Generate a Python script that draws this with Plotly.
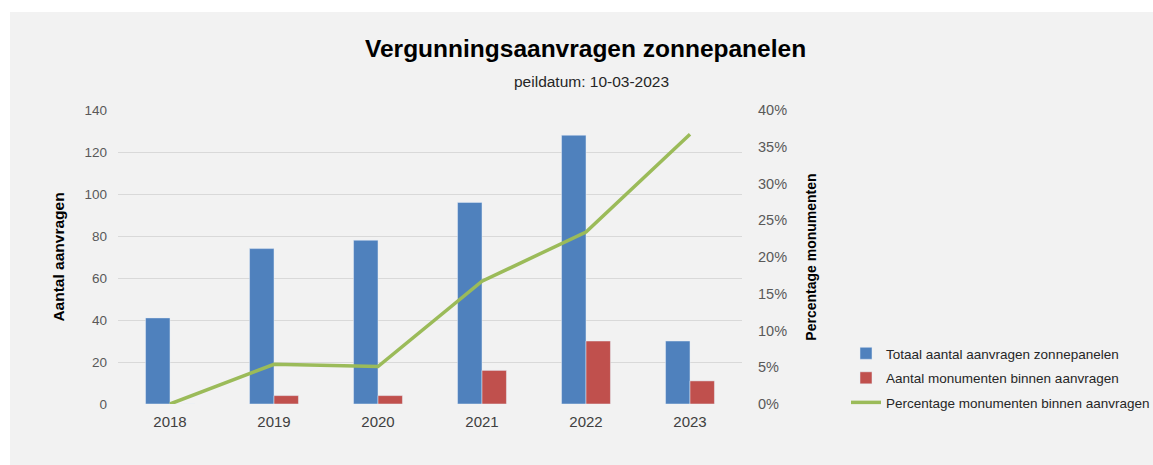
import plotly.graph_objects as go

years = ["2018", "2019", "2020", "2021", "2022", "2023"]
totaal = [41, 74, 78, 96, 128, 30]
monumenten = [0, 4, 4, 16, 30, 11]
percentage = [0.0, 0.054, 0.051, 0.167, 0.234, 0.367]

W, H = 1153, 465
L, R, T, B = 118, 411, 110, 61
pw, ph = W - L - R, H - T - B

fig = go.Figure()
fig.add_trace(go.Bar(x=years, y=totaal, name="Totaal aantal aanvragen zonnepanelen",
                     marker_color="#4f81bd", legendgroup="a"))
fig.add_trace(go.Bar(x=years, y=monumenten, name="Aantal monumenten binnen aanvragen",
                     marker_color="#c0504d", legendgroup="b"))
fig.add_trace(go.Scatter(x=years, y=percentage, name="Percentage monumenten binnen aanvragen",
                         mode="lines", line=dict(color="#9bbb59", width=3.5),
                         yaxis="y2", legendgroup="c"))

fig.update_layout(
    width=W, height=H, autosize=False,
    margin=dict(l=L, r=R, t=T, b=B, autoexpand=False),
    paper_bgcolor="white",
    plot_bgcolor="rgba(0,0,0,0)",
    font=dict(family="Liberation Sans, Arial, sans-serif", color="#595959"),
    barmode="group", bargap=0.53, bargroupgap=0,
    showlegend=True,
    legend=dict(x=(846 - L) / pw, y=(404 - 338) / ph, xanchor="left", yanchor="top",
                bgcolor="rgba(0,0,0,0)", font=dict(size=13.5, color="#262626"),
                tracegroupgap=4, traceorder="grouped", itemwidth=30),
    xaxis=dict(showgrid=False, showline=False, ticks="", automargin=False,
               ticklabelstandoff=7,
               tickfont=dict(size=15, color="#404040")),
    yaxis=dict(range=[0, 140], dtick=20, showgrid=True, gridcolor="#d9d9d9", gridwidth=1,
               zeroline=False, showline=False, ticks="", ticklabelstandoff=10, automargin=False,
               tickfont=dict(size=13.5, color="#595959"),
               title=dict(text="<b>Aantal aanvragen</b>", font=dict(size=15.5, color="#000000"),
                          standoff=16)),
    yaxis2=dict(range=[0, 0.4], dtick=0.05, tickformat=".0%", overlaying="y", side="right",
                showgrid=False, zeroline=False, showline=False, ticks="", ticklabelstandoff=15,
                automargin=False,
                tickfont=dict(size=14.5, color="#595959"),
                title=dict(text="<b>Percentage monumenten</b>", font=dict(size=14, color="#000000"),
                           standoff=20)),
    shapes=[dict(type="rect", xref="paper", yref="paper", layer="below",
                 x0=(10 - L) / pw, x1=(W - L) / pw, y0=(404 - H) / ph, y1=(404 - 12) / ph,
                 fillcolor="#f2f2f2", line=dict(width=0))],
    annotations=[
        dict(text="<b>Vergunningsaanvragen zonnepanelen</b>", xref="paper", yref="paper",
             x=(585 - L) / pw, y=(404 - 48) / ph, showarrow=False,
             font=dict(size=24.5, color="#000000"), xanchor="center", yanchor="middle"),
        dict(text="peildatum: 10-03-2023", xref="paper", yref="paper",
             x=(591 - L) / pw, y=(404 - 82) / ph, showarrow=False,
             font=dict(size=15.5, color="#262626"), xanchor="center", yanchor="middle"),
    ],
)

fig.write_html(
    "out.html",
    config={"displayModeBar": False, "responsive": False},
    default_width="1153px", default_height="465px",
    post_script="document.body.style.margin='0px';document.body.style.overflow='hidden';"
                "document.documentElement.style.overflow='hidden';",
)
